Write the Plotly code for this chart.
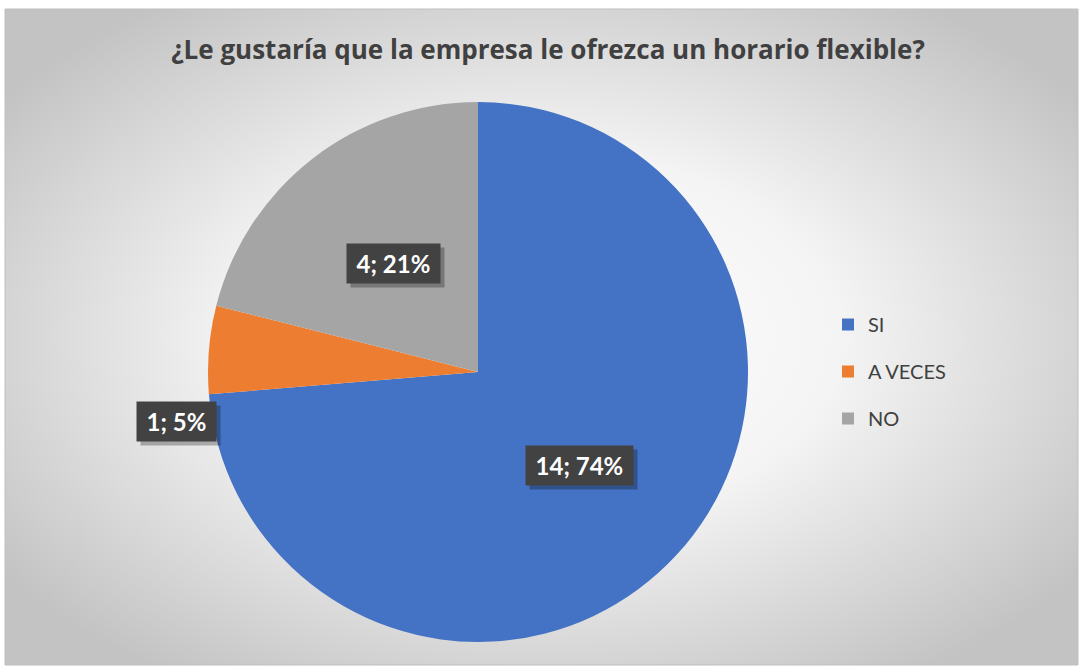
import base64
import math
import plotly.graph_objects as go

# data
categories = ['SI', 'A VECES', 'NO']
counts = [14, 1, 4]
colors = ['#4472C4', '#ED7D31', '#A5A5A5']
title_text = '¿Le gustaría que la empresa le ofrezca un horario flexible?'

W, H = 1080, 667
CX, CY, R = 478, 372, 270          # pie centre / radius in pixels
FONT = 'Lato, Open Sans, sans-serif'
LABEL_SIZE = 24
# rough Lato bold glyph widths (em) used to size the label boxes
CHAR_EM = {';': 0.27, ' ': 0.2, '%': 0.83}


def px_x(x):
    return x / W


def px_y(y):
    return 1 - y / H


def text_width(s: str, size: int) -> float:
    return sum(CHAR_EM.get(c, 0.58) for c in s) * size


def gradient_background() -> str:
    """Radial grey gradient like the Excel chart area, as an svg data uri"""
    svg = (
        '<svg xmlns="http://www.w3.org/2000/svg" width="1073" height="656">'
        '<defs><radialGradient id="g" cx="50%" cy="50%" r="62%">'
        '<stop offset="0" stop-color="#ffffff"/>'
        '<stop offset="0.45" stop-color="#f4f4f4"/>'
        '<stop offset="1" stop-color="#c3c3c3"/>'
        '</radialGradient></defs>'
        '<rect width="1073" height="656" fill="url(#g)"/></svg>'
    )
    return 'data:image/svg+xml;base64,' + base64.b64encode(svg.encode()).decode()


fig = go.Figure()

fig.add_trace(go.Pie(
    labels=categories,
    values=counts,
    marker=dict(colors=colors, line=dict(width=0)),
    sort=False,
    direction='clockwise',
    rotation=0,
    textinfo='none',
    hoverinfo='label+value+percent',
    showlegend=False,
    domain=dict(x=[px_x(CX - R), px_x(CX + R)], y=[px_y(CY + R), px_y(CY - R)]),
))

# legend through dummy traces so the item spacing can be controlled
for i, (cat, col) in enumerate(zip(categories, colors)):
    fig.add_trace(go.Scatter(
        x=[None], y=[None], mode='markers', name=cat, legendgroup=str(i),
        marker=dict(symbol='square', size=12, color=col),
    ))

# data labels: value; percent in dark boxes
total = sum(counts)
cum = 0
annotations = []
for cat, v in zip(categories, counts):
    frac = v / total
    start = cum * 2 * math.pi
    mid = (cum + frac / 2) * 2 * math.pi
    cum += frac
    txt = '%d; %d%%' % (v, round(frac * 100))
    if frac > 0.1:
        x = CX + 0.51 * R * math.sin(mid)
        y = CY - 0.51 * R * math.cos(mid)
        xa, ya = 'center', 'middle'
    else:
        # small slice: label outside, below-left of the slice edge
        x = CX + R * math.sin(start) + 8
        y = CY - R * math.cos(start) + 7
        xa, ya = 'right', 'top'
    box_w = text_width(txt, LABEL_SIZE) + 10
    # shadow box
    annotations.append(dict(
        x=px_x(x), y=px_y(y), xref='paper', yref='paper', xanchor=xa, yanchor=ya,
        text='&nbsp;', showarrow=False, xshift=4, yshift=-4, width=box_w,
        font=dict(family=FONT, size=LABEL_SIZE, color='rgba(0,0,0,0)'),
        bgcolor='rgba(0,0,0,0.28)', borderpad=5,
    ))
    annotations.append(dict(
        x=px_x(x), y=px_y(y), xref='paper', yref='paper', xanchor=xa, yanchor=ya,
        text='<b>%s</b>' % txt, showarrow=False, width=box_w,
        font=dict(family=FONT, size=LABEL_SIZE, color='white'),
        bgcolor='#424242', borderpad=5,
    ))

fig.update_layout(
    width=W,
    height=H,
    margin=dict(l=0, r=0, t=0, b=0),
    paper_bgcolor='white',
    plot_bgcolor='rgba(0,0,0,0)',
    title=dict(text='<b>%s</b>' % title_text, x=548 / W, xanchor='center',
               y=px_y(50), yanchor='middle',
               font=dict(family='Open Sans, sans-serif', size=26, color='#404040')),
    xaxis=dict(visible=False),
    yaxis=dict(visible=False),
    legend=dict(x=px_x(828), y=px_y(305), xanchor='left', yanchor='top',
                font=dict(family=FONT, size=20, color='#404040'),
                tracegroupgap=18, itemclick=False, bgcolor='rgba(0,0,0,0)'),
    annotations=annotations,
    images=[dict(source=gradient_background(), xref='paper', yref='paper',
                 x=px_x(5), y=px_y(9), sizex=1073 / W, sizey=656 / H,
                 xanchor='left', yanchor='top', sizing='stretch', layer='below')],
    shapes=[dict(type='rect', xref='paper', yref='paper',
                 x0=px_x(5), x1=px_x(1078), y0=px_y(665), y1=px_y(9),
                 line=dict(color='#bfbfbf', width=1), layer='below')],
)

# the page has a default 8px body margin; drop it so the figure fills the window
fig.write_html('out.html', config={'displayModeBar': False},
               post_script="document.body.style.margin='0';")
